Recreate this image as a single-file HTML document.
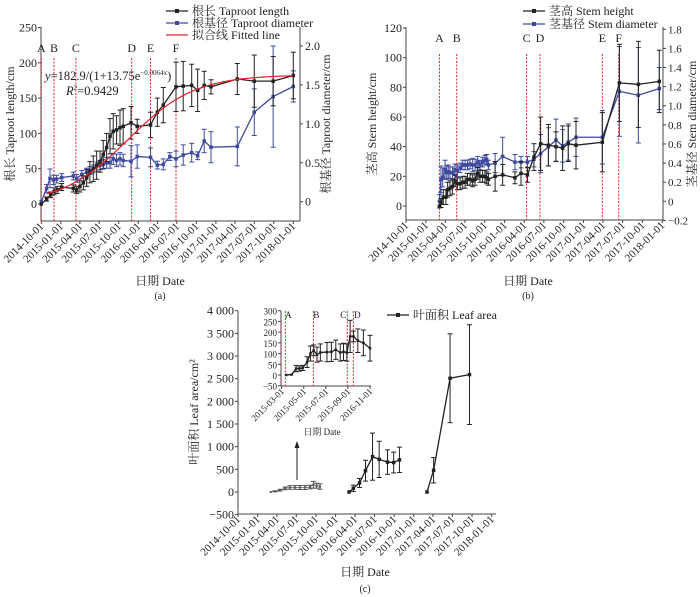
<!DOCTYPE html>
<html><head><meta charset="utf-8"><style>
body{margin:0;background:#fff}
svg{display:block;font-family:"Liberation Serif","Noto Serif CJK SC",serif}
</style></head><body>
<svg id="fig" width="700" height="597" viewBox="0 0 700 597"></svg>
<script>
// ---------- Panel (a) data ----------
const aLenDays=[0,25,44,60,75,96,151,167,182,198,214,229,245,261,277,292,308,324,339,355,371,386,423,452,515,547,575,635,669,709,737,768,800,924,1004,1093,1188];
const aLenVals=[0,7,13,18,20,24,22,20,25,30,37,45,50,55,60,70,80,96,103,105,108,110,115,110,112,130,140,166,167,168,161,168,166,177,174,174,182];
const aLenErr=[0,3,4,5,5,5,5,5,8,10,12,15,18,20,15,20,20,25,25,20,25,25,23,10,18,20,25,35,35,30,30,20,10,22,37,35,33];
const aDiaDays=[0,25,41,57,72,96,151,167,191,214,229,245,261,277,292,308,324,339,355,371,386,423,452,515,547,575,606,635,669,709,737,768,800,924,1004,1093,1188];
const aDiaVals=[0,0.17,0.30,0.28,0.29,0.31,0.33,0.30,0.35,0.38,0.40,0.42,0.45,0.47,0.48,0.50,0.50,0.55,0.53,0.55,0.53,0.52,0.58,0.57,0.47,0.48,0.58,0.55,0.60,0.63,0.59,0.78,0.70,0.71,1.15,1.35,1.48];
const aDiaErr=[0,0.05,0.12,0.06,0.05,0.05,0.05,0.05,0.05,0.05,0.05,0.05,0.06,0.06,0.06,0.07,0.07,0.07,0.08,0.08,0.08,0.2,0.15,0.12,0.05,0.07,0.05,0.1,0.13,0.12,0.05,0.15,0.2,0.25,0.3,0.65,0.2];
const aFitParams=[182.9,13.75,0.0064];
const aStageDays=[0,60,163,426,515,635];
const stageLetters=["A","B","C","D","E","F"];
const dateTicks=["2014-10-01","2015-01-01","2015-04-01","2015-07-01","2015-10-01","2016-01-01","2016-04-01","2016-07-01","2016-10-01","2017-01-01","2017-04-01","2017-07-01","2017-10-01","2018-01-01"];
const aLeftTicks=[0,50,100,150,200,250];
const aRightTicks=[0,0.5,1.0,1.5,2.0];
// ---------- Panel (b) data ----------
const bHDays=[155,162,173,185,193,204,215,227,238,251,263,274,285,297,309,320,332,343,355,366,374,382,413,448,505,533,563,593,624,660,695,726,752,788,910,989,1077,1174];
const bHVals=[0,2,6,6,11,12,13,17,15,15,16,16,18,18,17,18,22,20,20,20,19,18,20,21,19,22,21,33,42,41,40,39,42,41,43,83,82,84];
const bHErr=[0,3,5,5,5,5,5,4,4,4,4,4,4,4,4,4,4,4,4,4,4,4,10,7,4,8,5,9,18,14,10,15,12,16,20,26,29,21];
const bDDays=[155,162,170,181,189,196,204,216,227,238,251,263,274,285,297,309,320,332,343,355,366,374,382,413,448,505,533,563,593,624,660,695,726,752,788,910,989,1077,1174];
const bDVals=[0,0.23,0.25,0.33,0.30,0.31,0.30,0.30,0.33,0.32,0.35,0.38,0.38,0.38,0.39,0.38,0.38,0.41,0.38,0.41,0.43,0.44,0.38,0.40,0.47,0.41,0.41,0.41,0.44,0.50,0.57,0.64,0.58,0.62,0.67,0.67,1.15,1.11,1.18];
const bDErr=[0.07,0.14,0.1,0.1,0.07,0.07,0.06,0.06,0.06,0.06,0.05,0.05,0.05,0.05,0.05,0.07,0.06,0.06,0.05,0.05,0.05,0.05,0.05,0.1,0.2,0.08,0.06,0.06,0.08,0.2,0.2,0.22,0.17,0.19,0.2,0.28,0.47,0.5,0.22];
const bStageDays=[155,235,559,621,910,986];
const bLeftTicks=[0,20,40,60,80,100,120];
const bRightTicks=[-0.2,0,0.2,0.4,0.6,0.8,1.0,1.2,1.4,1.6,1.8];
// ---------- Panel (c) data ----------
const cSeg1Days=[153,173,197,220,243,267,290,314,337,353,368,384];
const cSeg1Vals=[0,15,40,80,100,100,100,100,110,160,140,120];
const cSeg1Err=[0,10,20,30,40,40,45,45,40,75,55,60];
const cSeg2Days=[520,540,569,597,630,661,700,729,756];
const cSeg2Vals=[0,80,200,470,780,720,660,650,710];
const cSeg2Err=[0,70,100,230,520,400,270,230,280];
const cSeg3Days=[885,916,993,1084];
const cSeg3Vals=[0,480,2510,2590];
const cSeg3Err=[0,280,980,1100];
const cLeftTicks=[-500,0,500,1000,1500,2000,2500,3000,3500,4000];
const cDateTicks=["2014-10-01","2015-01-01","2015-04-01","2015-07-01","2015-10-01","2016-01-01","2016-04-01","2016-07-01","2016-10-01","2017-01-01","2017-04-01","2017-07-01","2017-10-01","2018-01-01"];
// inset (months after 2015-03-01)
const iMonths=[0.4,0.9,1.3,1.6,1.9,2.3,2.6,2.9,3.2,3.5,4.1,4.5,4.9,5.3,5.6,5.9,6.2,6.5,6.9,7.4,8.0];
const iVals=[0,2,30,30,33,60,100,115,95,105,107,108,118,105,108,105,180,180,160,150,125];
const iErr=[0,0,15,12,12,25,35,25,35,40,45,45,45,40,40,40,75,25,55,60,60];
const iStageMonths=[0.33,2.87,5.94,6.49];
const iStageLetters=["A","B","C","D"];
const iTickLabels=["2015-03-01","2015-05-01","2015-07-01","2015-09-01","2016-11-01"];
const iLeftTicks=[-50,0,50,100,150,200,250,300];

const NS="http://www.w3.org/2000/svg";
const svg=document.getElementById('fig');
function el(tag,attrs,parent,txt){const e=document.createElementNS(NS,tag);for(const k in attrs)e.setAttribute(k,attrs[k]);if(txt!==undefined)e.textContent=txt;(parent||svg).appendChild(e);return e;}
function lin(d0,d1,r0,r1){return v=>r0+(v-d0)/(d1-d0)*(r1-r0);}
const BLUE="#3d4a9e",RED="#e8202a";

function box(x0,y0,x1,y1,name,rightAxis){
  const g=el('g',{});
  
  
  el('line',{x1:x0,y1:y0,x2:x0,y2:y1,stroke:'#444','stroke-width':1},g);
  el('line',{x1:x0,y1:y1,x2:x1,y2:y1,stroke:'#444','stroke-width':1},g);
  if(rightAxis) el('line',{x1:x1,y1:y0,x2:x1,y2:y1,stroke:'#444','stroke-width':1},g);
  return g;
}
function yTicks(ticks,sy,x,side,fmt,fs,name){
  const g=el('g',{});
  
  
  ticks.forEach(t=>{const y=sy(t);
    el('line',{x1:x,y1:y,x2:x+(side<0?-3:3),y2:y,stroke:'#444'},g);
    const tx=el('text',{x:x+(side<0?-4:5),y:y+4,'font-size':fs,'text-anchor':side<0?'end':'start',fill:'#222'},g,fmt(t));
    
    
  });
}
function xTicks(labels,pos,y,fs,name){
  const g=el('g',{});
  
  
  labels.forEach((l,i)=>{const x=pos(i);
    el('line',{x1:x,y1:y,x2:x,y2:y+3,stroke:'#444'},g);
    const tx=el('text',{x:x+3,y:y+6,'font-size':fs,'text-anchor':'end',fill:'#222',transform:`rotate(-45 ${x+3} ${y+6})`},g,l);
    
    
  });
}
function dayOf(s){return (Date.parse(s)-Date.parse("2014-10-01"))/864e5;}
function series(xs,ys,es,sx,sy,col,name,ms,sw){
  const g=el('g',{});
  
  
  xs.forEach((d,i)=>{const x=sx(d),yt=sy(ys[i]+es[i]),yb=sy(ys[i]-es[i]);
    if(es[i]>0){el('line',{x1:x,y1:yt,x2:x,y2:yb,stroke:col,'stroke-width':1},g);
    el('line',{x1:x-2.5,y1:yt,x2:x+2.5,y2:yt,stroke:col},g);el('line',{x1:x-2.5,y1:yb,x2:x+2.5,y2:yb,stroke:col},g);}});
  el('polyline',{points:xs.map((d,i)=>sx(d)+','+sy(ys[i])).join(' '),fill:'none',stroke:col,'stroke-width':sw||1.3},g);
  xs.forEach((d,i)=>{const m=el('rect',{x:sx(d)-ms/2,y:sy(ys[i])-ms/2,width:ms,height:ms,fill:col},g);
    
    });
}
function stages(xs,letters,sx,yTop,yBot,yLab,name,fs){
  const g=el('g',{});
  
  
  xs.forEach((d,i)=>{const x=sx(d);
    el('line',{x1:x,y1:yTop,x2:x,y2:yBot,stroke:RED,'stroke-width':1,'stroke-dasharray':'2,1.5'},g);
    if(yLab!==null) el('text',{x:x,y:yLab,'font-size':fs,'text-anchor':'middle',fill:'#222'},g,letters[i]);});
}
function text(x,y,t,fs,name,opts){const e=el('text',Object.assign({x:x,y:y,'font-size':fs,fill:'#222'},opts||{}),svg,t);
  
  return e;}
function legend(x,y,col,label,name,marker){
  const g=el('g',{});
  
  
  el('line',{x1:x,y1:y,x2:x+22,y2:y,stroke:col,'stroke-width':1.3},g);
  if(marker) el('rect',{x:x+9,y:y-2,width:4,height:4,fill:col},g);
  el('text',{x:x+26,y:y+4,'font-size':12,fill:'#222'},g,label);
}

// ===== Panel (a) =====
{const X0=41,X1=300,Y0=27,Y1=221;
 const sx=lin(0,1188,41.3,293.3), sy=lin(0,250,204,27.5), sy2=lin(0,2,201.7,46);
 box(X0,Y0,X1,Y1,'panel-a-axes',true);
 yTicks(aLeftTicks,sy,X0,-1,t=>t,12,'a-left-ticks');
 yTicks(aRightTicks,sy2,X1,1,t=>t===0?'0':t.toFixed(1),12,'a-right-ticks');
 xTicks(dateTicks,i=>sx(dayOf(dateTicks[i])),Y1,11,'a-x-ticks');
 stages(aStageDays,stageLetters,sx,58,Y1,52,'a-stage-lines',12);
 series(aDiaDays,aDiaVals,aDiaErr,sx,sy2,BLUE,'a-taproot-diameter',3.5);
 series(aLenDays,aLenVals,aLenErr,sx,sy,'#222','a-taproot-length',3.5);
 const fit=[];for(let d=25;d<=1188;d+=8)fit.push(sx(d)+','+sy(aFitParams[0]/(1+aFitParams[1]*Math.exp(-aFitParams[2]*d))));
 const fl=el('polyline',{points:fit.join(' '),fill:'none',stroke:RED,'stroke-width':1.2});
 
 
 const f=text(45,80,'',12.5,'a-fit-equation');f.innerHTML='<tspan font-style="italic">y</tspan>=182.9/(1+13.75e<tspan dy="-5" font-size="7">−0.0064x</tspan><tspan dy="5">)</tspan>';
 const r=text(66,95,'',12.5,'a-r-squared');r.innerHTML='<tspan font-style="italic">R</tspan><tspan dy="-5" font-size="7">2</tspan><tspan dy="5">=0.9429</tspan>';
 text(14,124,'根长 Taproot length/cm',12,'a-y-title',{transform:'rotate(-90 14 124)','text-anchor':'middle'});
 text(330,124,'根基径 Taproot diameter/cm',12,'a-y2-title',{transform:'rotate(-90 330 124)','text-anchor':'middle'});
 text(160,285,'日期 Date',12,'a-x-title',{'text-anchor':'middle'});
 text(160,299,'(a)',10,'a-caption',{'text-anchor':'middle'});
 legend(166,11,'#222','根长 Taproot length','legend-taproot-length',true);
 legend(166,23,BLUE,'根基径 Taproot diameter','legend-taproot-diameter',true);
 legend(166,35,RED,'拟合线 Fitted line','legend-fitted-line',false);
}
// ===== Panel (b) =====
{const X0=406,X1=663,Y0=27,Y1=220;
 const sx=lin(0,1188,406,662.3), sy=lin(0,120,206,28), sy2=lin(0,1.8,201.3,29.3);
 box(X0,Y0,X1,Y1,'panel-b-axes',true);
 yTicks(bLeftTicks,sy,X0,-1,t=>t,12,'b-left-ticks');
 yTicks(bRightTicks,sy2,X1,1,t=>t===0?'0':(t<0?'−':'')+Math.abs(t).toFixed(1),11,'b-right-ticks');
 xTicks(dateTicks,i=>sx(dayOf(dateTicks[i])),Y1,11,'b-x-ticks');
 stages(bStageDays,stageLetters,sx,54,Y1,42,'b-stage-lines',12);
 series(bDDays,bDVals,bDErr,sx,sy2,BLUE,'b-stem-diameter',3.5);
 series(bHDays,bHVals,bHErr,sx,sy,'#222','b-stem-height',3.5);
 text(376,124,'茎高 Stem height/cm',12,'b-y-title',{transform:'rotate(-90 376 124)','text-anchor':'middle'});
 text(696,124,'茎基径 Stem diameter/cm',12,'b-y2-title',{transform:'rotate(-90 696 124)','text-anchor':'middle'});
 text(528,285,'日期 Date',12,'b-x-title',{'text-anchor':'middle'});
 text(528,299,'(b)',10,'b-caption',{'text-anchor':'middle'});
 legend(523,11,'#222','茎高 Stem height','legend-stem-height',true);
 legend(523,24,BLUE,'茎基径 Stem diameter','legend-stem-diameter',true);
}
// ===== Panel (c) =====
{const X0=238,X1=496,Y0=311,Y1=514;
 const sx=lin(0,1188,238,491.7), sy=lin(0,4000,492,310.7);
 box(X0,Y0,X1,Y1,'panel-c-axes',false);
 yTicks(cLeftTicks,sy,X0,-1,t=>{const s=Math.abs(t)>=1000?String(Math.abs(t)).replace(/(\d)(\d{3})$/,'$1 $2'):String(Math.abs(t));return (t<0?'−':'')+s;},12,'c-left-ticks');
 xTicks(cDateTicks,i=>sx(dayOf(cDateTicks[i])),Y1,11,'c-x-ticks');
 series(cSeg1Days,cSeg1Vals,cSeg1Err,sx,sy,'#555','c-leaf-area-2015',2,0.8);
 series(cSeg2Days,cSeg2Vals,cSeg2Err,sx,sy,'#222','c-leaf-area-2016',3.5);
 series(cSeg3Days,cSeg3Vals,cSeg3Err,sx,sy,'#222','c-leaf-area-2017',3.5);
 const ar=el('g',{});
 
 
 el('line',{x1:297,y1:480,x2:297,y2:444,stroke:'#222'},ar);
 el('polygon',{points:'297,441 294.5,448 299.5,448',fill:'#222'},ar);
 text(198,412,'叶面积 Leaf area/cm²',12,'c-y-title',{transform:'rotate(-90 198 412)','text-anchor':'middle'});
 text(365,576,'日期 Date',12,'c-x-title',{'text-anchor':'middle'});
 text(365,592,'(c)',10,'c-caption',{'text-anchor':'middle'});
 legend(387,315,'#222','叶面积 Leaf area','legend-leaf-area',true);
 // inset
 const IX0=281,IX1=371,IY0=311,IY1=386;
 const ix=lin(0,8,281.7,370), iy=lin(0,300,375,310.7);
 box(IX0,IY0,IX1,IY1,'inset-axes',false);
 yTicks(iLeftTicks,iy,IX0,-1,t=>(t<0?'−':'')+Math.abs(t),9,'inset-left-ticks');
 xTicks(iTickLabels,i=>ix(i*2),IY1,9,'inset-x-ticks');
 stages(iStageMonths,iStageLetters,ix,IY0,IY1,null,'inset-stage-lines',9);
 iStageMonths.forEach((m,i)=>text(ix(m)+(i===2?-4:(i===3?4:3)),318,iStageLetters[i],9,'inset-stage-label',{'text-anchor':'middle'}));
 series(iMonths,iVals,iErr,ix,iy,'#222','inset-leaf-area',2.5);
 text(322,435,'日期 Date',9,'inset-x-title',{'text-anchor':'middle'});
}
</script>
</body></html>
